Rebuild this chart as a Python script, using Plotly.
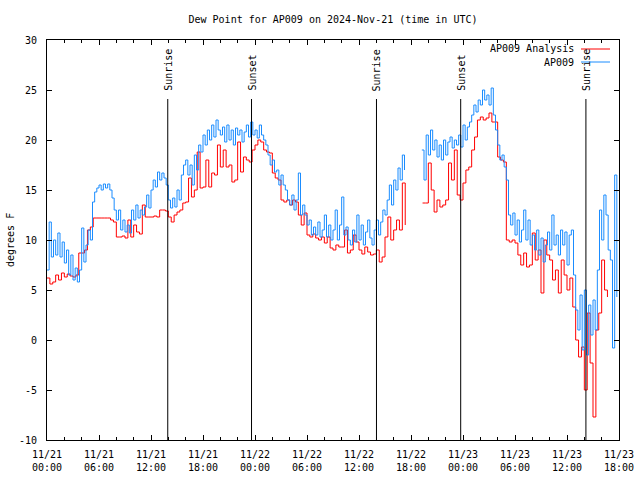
import pandas as pd
import plotly.graph_objects as go

# ---------------- data ----------------
# AP009 observed dew point (deg F), every 15 minutes from 2024-11-21 00:00 UTC
ap009 = [
    7.0, 11.8, 8.3, 10.0,    # h0
    8.5, 10.7, 8.3, 9.8,     # h1
    7.7, 9.0, 6.5, 8.5,      # h2
    6.0, 7.2, 5.8, 7.0,      # h3
    11.2, 7.8, 9.5, 11.0,    # h4
    10.0, 13.8, 14.8, 15.2,  # h5
    15.5, 15.0, 15.6, 15.2,  # h6
    15.6, 15.0, 14.2, 13.0,  # h7
    12.0, 13.0, 11.0, 12.0,  # h8
    10.8, 11.5, 10.7, 13.0,  # h9
    12.0, 13.5, 12.2, 13.0,  # h10
    12.5, 13.3, 14.5, 13.2,  # h11
    15.0, 16.0, 15.3, 16.8,  # h12
    16.0, 16.7, 16.2, 15.5,  # h13
    14.0, 13.2, 14.2, 13.3,  # h14
    15.0, 14.0, 16.5, 17.5,  # h15
    18.0, 16.5, 17.5, 15.5,  # h16
    18.5, 17.0, 19.5, 18.8,  # h17
    20.5, 19.5, 21.0, 20.0,  # h18
    21.5, 20.3, 22.0, 21.0,  # h19
    20.5, 21.3, 19.8, 21.5,  # h20
    20.0, 21.0, 19.5, 21.2,  # h21
    20.5, 21.0, 19.8, 20.8,  # h22
    21.5, 20.3, 21.8, 20.5,  # h23
    21.0, 20.2, 21.5, 20.5,  # h24
    20.0, 19.5, 18.5, 17.5,  # h25
    18.0, 16.8, 17.0, 15.5,  # h26
    16.5, 15.5, 15.0, 14.0,  # h27
    13.5, 14.5, 13.0, 14.0,  # h28
    16.7, 12.5, 13.5, 12.5,  # h29
    11.5, 12.0, 10.5, 11.3,  # h30
    10.5, 11.8, 10.3, 11.0,  # h31
    12.5, 10.3, 11.5, 10.0,  # h32
    11.0, 13.0, 10.0, 11.5,  # h33
    14.3, 10.5, 11.3, 10.0,  # h34
    9.5, 11.0, 9.8, 12.5,    # h35
    10.0, 11.5, 9.5, 10.8,   # h36
    12.0, 10.2, 9.5, 11.0,   # h37
    12.0, 10.5, 11.8, 13.0,  # h38
    12.5, 14.0, 15.5, 13.5,  # h39
    16.0, 15.0, 17.2, 16.0,  # h40
    18.5, 17.0, None, None,  # h41
    None, None, None, None,  # h42
    None, 19.0, 16.0, 20.5,  # h43
    18.5, 21.0, 19.0, 20.0,  # h44
    18.3, 19.5, 18.0, 20.0,  # h45
    18.5, 19.8, 20.3, 19.2,  # h46
    20.0, 19.5, 20.5, 19.3,  # h47
    21.5, 20.0, 21.3, 21.8,  # h48
    22.5, 23.5, 22.8, 24.0,  # h49
    23.5, 25.0, 24.0, 24.5,  # h50
    23.5, 25.2, 22.5, 21.0,  # h51
    19.5, 18.0, 18.5, 17.3,  # h52
    16.0, 12.5, 11.5, 12.7,  # h53
    10.5, 12.0, 9.8, 11.0,   # h54
    13.0, 10.0, 12.0, 9.5,   # h55
    10.5, 9.0, 11.0, 8.5,    # h56
    10.2, 7.8, 9.5, 10.8,    # h57
    9.0, 12.5, 9.5, 10.5,    # h58
    8.5, 11.0, 9.5, 10.8,    # h59
    7.5, 10.5, 11.0, 6.5,    # h60
    3.0, 1.0, 4.5, -1.0,     # h61
    5.0, -1.5, 3.5, 0.5,     # h62
    4.0, 1.0, 7.0, 13.0,     # h63
    10.0, 14.5, 12.5, 9.0,   # h64
    8.0, -0.8, 16.5, 4.3,    # h65
]

# AP009 analysis dew point (deg F), every 20 minutes from 2024-11-21 00:00 UTC
analysis = [
    6.2, 5.6, 5.8,     # h0
    6.5, 6.0, 6.7,     # h1
    6.3, 6.6, 6.4,     # h2
    6.3, 6.5, 8.7,     # h3
    8.7, 9.0, 11.0,    # h4
    11.3, 12.2, 12.2,  # h5
    12.2, 12.2, 12.2,  # h6
    12.2, 12.0, 11.8,  # h7
    10.3, 10.3, 10.4,  # h8
    10.2, 12.0, 10.3,  # h9
    11.5, 10.8, 10.6,  # h10
    13.5, 12.3, 12.3,  # h11
    12.3, 12.4, 12.3,  # h12
    13.0, 13.0, 12.9,  # h13
    12.3, 11.8, 12.5,  # h14
    12.8, 13.0, 13.7,  # h15
    13.8, 16.2, 14.3,  # h16
    15.0, 18.8, 15.2,  # h17
    15.3, 18.0, 15.3,  # h18
    16.7, 16.5, 19.5,  # h19
    17.3, 19.0, 17.3,  # h20
    17.5, 15.8, 16.0,  # h21
    19.8, 16.8, 18.3,  # h22
    18.0, 17.8, 19.0,  # h23
    19.5, 20.0, 19.8,  # h24
    19.0, 18.8, 18.7,  # h25
    16.7, 16.2, 16.0,  # h26
    14.0, 13.8, 14.0,  # h27
    13.5, 14.0, 13.8,  # h28
    12.5, 11.5, 12.7,  # h29
    10.5, 10.3, 10.6,  # h30
    10.2, 10.0, 10.3,  # h31
    9.7, 10.3, 9.2,    # h32
    9.0, 9.5, 9.3,     # h33
    9.3, 11.0, 8.7,    # h34
    9.0, 10.5, 9.8,    # h35
    9.0, 8.6, 9.3,     # h36
    8.8, 8.5, 8.6,     # h37
    9.0, 7.8, 8.3,     # h38
    10.3, 12.3, 10.0,  # h39
    11.0, 12.0, 11.0,  # h40
    15.7, 11.5, None,  # h41
    None, None, None,  # h42
    None, 13.7, 13.7,  # h43
    17.7, 15.0, 12.8,  # h44
    14.0, 13.3, 13.5,  # h45
    14.0, 17.7, 16.0,  # h46
    19.0, 14.5, 14.0,  # h47
    15.7, 17.0, 17.3,  # h48
    19.0, 20.3, 22.0,  # h49
    22.3, 22.0, 22.2,  # h50
    22.7, 21.8, 21.8,  # h51
    18.3, 18.0, 17.8,  # h52
    10.0, 9.8, 10.0,   # h53
    9.7, 8.5, 7.5,     # h54
    8.7, 7.3, 7.5,     # h55
    10.7, 8.0, 9.0,    # h56
    4.7, 10.0, 8.5,    # h57
    8.0, 6.0, 7.0,     # h58
    4.7, 8.0, 6.5,     # h59
    5.0, 6.2, 3.3,     # h60
    0.0, -1.7, -0.7,   # h61
    -5.0, 2.7, -2.3,   # h62
    -7.7, 1.0, 2.7,    # h63
    8.0, 5.0, 4.3,     # h64
]

sun_labels = ["Sunrise", "Sunset", "Sunrise", "Sunset", "Sunrise"]
sun_times = ["2024-11-21 13:56", "2024-11-21 23:36", "2024-11-22 14:01",
             "2024-11-22 23:44", "2024-11-23 14:11"]

x_tick_vals = ["2024-11-21 00:00", "2024-11-21 06:00", "2024-11-21 12:00", "2024-11-21 18:00",
               "2024-11-22 00:00", "2024-11-22 06:00", "2024-11-22 12:00", "2024-11-22 18:00",
               "2024-11-23 00:00", "2024-11-23 06:00", "2024-11-23 12:00", "2024-11-23 18:00"]
x_tick_text = ["11/21<br>00:00", "11/21<br>06:00", "11/21<br>12:00", "11/21<br>18:00",
               "11/22<br>00:00", "11/22<br>06:00", "11/22<br>12:00", "11/22<br>18:00",
               "11/23<br>00:00", "11/23<br>06:00", "11/23<br>12:00", "11/23<br>18:00"]
y_tick_vals = [-10, -5, 0, 5, 10, 15, 20, 25, 30]
y_tick_text = ["-10", "-5", "0", "5", "10", "15", "20", "25", "30"]

# ---------------- figure ----------------
FONT = "DejaVu Sans Mono"
t_obs = pd.date_range("2024-11-21 00:00", periods=len(ap009), freq="15min")
t_ana = pd.date_range("2024-11-21 00:00", periods=len(analysis), freq="20min")

RED = "#ff0000"
BLUE = "#1a8cff"

fig = go.Figure()
fig.add_trace(go.Scatter(x=t_ana, y=analysis, mode="lines", line=dict(color=RED, width=1, shape="hv"),
                         name="AP009 Analysis", showlegend=False, hoverinfo="skip"))
fig.add_trace(go.Scatter(x=t_obs, y=ap009, mode="lines", line=dict(color=BLUE, width=1, shape="hv"),
                         name="AP009", showlegend=False, hoverinfo="skip"))

L, R, T, B = 47, 21, 40, 40
PW, PH = 640 - L - R, 480 - T - B

def px(xpix):
    return (xpix - L) / PW

def py(ypix):
    return (480 - B - ypix) / PH

shapes = []
annotations = []
for lab, t in zip(sun_labels, sun_times):
    shapes.append(dict(type="line", xref="x", yref="paper", x0=t, x1=t, y0=0, y1=py(99),
                       line=dict(color="black", width=1)))
    annotations.append(dict(xref="x", yref="paper", x=t, y=py(92), text=lab, textangle=-90,
                            showarrow=False, xanchor="center", yanchor="bottom", borderpad=0,
                            font=dict(family=FONT, size=10, color="black")))

# legend drawn gnuplot-style (text right-aligned, sample line to its right)
for name, col, ypix in [("AP009 Analysis", RED, 49), ("AP009", BLUE, 62)]:
    annotations.append(dict(xref="paper", yref="paper", x=px(575), y=py(ypix), text=name,
                            showarrow=False, xanchor="right", yanchor="middle", borderpad=0,
                            font=dict(family=FONT, size=10, color="black")))
    shapes.append(dict(type="line", xref="paper", yref="paper", x0=px(581), x1=px(610),
                       y0=py(ypix), y1=py(ypix), line=dict(color=col, width=1)))

annotations.append(dict(xref="paper", yref="paper", x=px(10), y=0.5, text="degrees F", textangle=-90,
                        showarrow=False, xanchor="center", yanchor="middle",
                        font=dict(family=FONT, size=10, color="black")))

fig.update_layout(
    width=640, height=480,
    margin=dict(l=L, r=R, t=T, b=B, autoexpand=False),
    paper_bgcolor="white", plot_bgcolor="white",
    font=dict(family=FONT, size=10, color="black"),
    title=dict(text="Dew Point for AP009 on 2024-Nov-21 (time in UTC)", x=px(333), xref="paper",
               xanchor="center", y=1 - 19 / 480, yanchor="middle",
               font=dict(family=FONT, size=10, color="black")),
    shapes=shapes, annotations=annotations,
    showlegend=False, hovermode=False,
)
fig.update_xaxes(type="date", range=["2024-11-21 00:00", "2024-11-23 18:00"], automargin=False,
                 tickmode="array", tickvals=x_tick_vals, ticktext=x_tick_text,
                 ticks="inside", ticklen=5, tickcolor="black", tickwidth=1,
                 minor=dict(dtick=2 * 3600 * 1000, tick0="2024-11-21 00:00", ticks="inside",
                            ticklen=3, tickcolor="black", tickwidth=1, showgrid=False),
                 showline=True, linecolor="black", linewidth=1, mirror="allticks",
                 showgrid=False, zeroline=False, ticklabelstandoff=5,
                 tickfont=dict(family=FONT, size=10))
fig.update_yaxes(range=[-10, 30], automargin=False, tickmode="array", tickvals=y_tick_vals,
                 ticktext=y_tick_text,
                 ticks="inside", ticklen=5, tickcolor="black", tickwidth=1,
                 showline=True, linecolor="black", linewidth=1, mirror="allticks",
                 showgrid=False, zeroline=False, ticklabelstandoff=7,
                 tickfont=dict(family=FONT, size=10))

fig.write_html("out.html", config={"displayModeBar": False},
               post_script="document.body.style.margin='0px';")
